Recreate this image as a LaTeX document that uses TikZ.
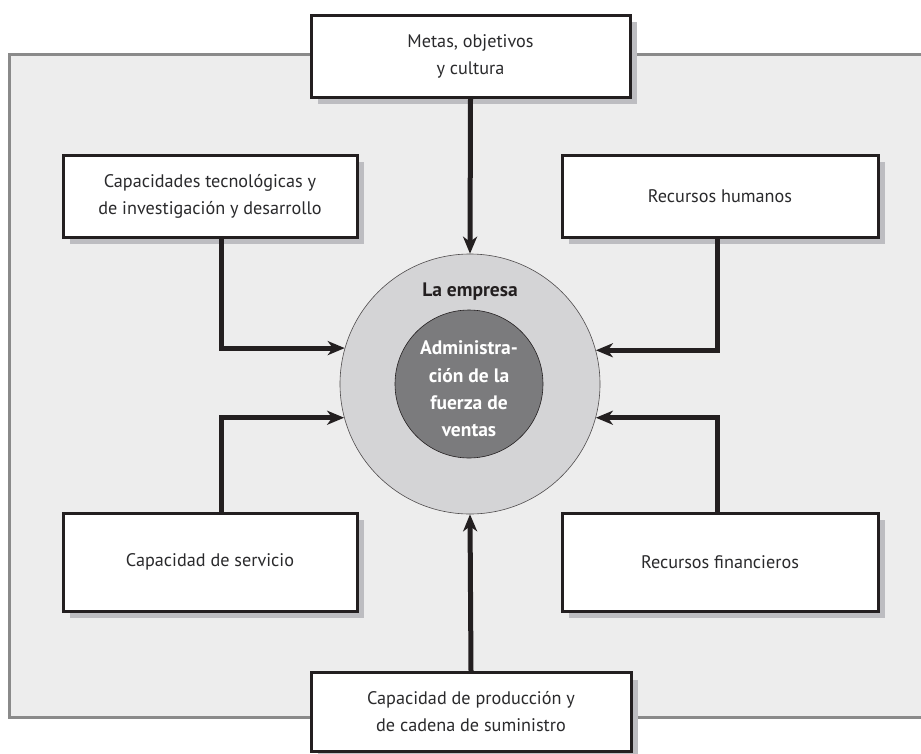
\documentclass[tikz,border=0pt]{standalone}
\usepackage{fontspec}
\setmainfont{PT Sans}
\usetikzlibrary{arrows.meta,shadows}
\definecolor{bgc}{HTML}{EDEDED}
\definecolor{framec}{HTML}{8A8A8A}
\definecolor{inkc}{HTML}{231F20}
\definecolor{shadowc}{HTML}{BDBDC1}
\definecolor{outerc}{HTML}{D4D4D6}
\definecolor{innerc}{HTML}{7B7B7D}
\definecolor{txtc}{HTML}{2A2A2C}
\tikzset{
  box/.style={draw=inkc, line width=3pt, fill=white, align=center, text=txtc,
    font=\fontsize{18.2}{27}\selectfont, inner sep=0pt,
    general shadow={fill=shadowc, draw=none, shadow xshift=7pt, shadow yshift=-7pt}},
  conn/.style={draw=inkc, line width=5pt, -{Stealth[length=17pt,width=14pt,inset=5pt]}},
}
\begin{document}
\begin{tikzpicture}[x=1pt,y=-1pt]
\useasboundingbox (0,0) rectangle (921,753);
\clip (0,0) rectangle (921,753);
% frame
\draw[fill=bgc, draw=framec, line width=3pt] (9,54) rectangle (940,717);
% circles
\node[circle, minimum size=260pt, fill=outerc, draw=inkc!80, line width=0.6pt, inner sep=0pt] (circ) at (470,384) {};
\node[circle, minimum size=148pt, fill=innerc, draw=inkc, line width=0.6pt, inner sep=0pt] (inner) at (469,384) {};
\node[text=inkc, font=\fontsize{19.5}{22}\selectfont\bfseries] (lab) at (470,292) {La empresa};
\node[text=white, align=center, font=\fontsize{19.5}{27.3}\selectfont\bfseries] (adm) at (469,389) {Administra-\\ción de la\\fuerza de\\ventas};
% boxes
\node[box, minimum width=319pt, minimum height=82pt] (top) at (470.5,56) {Metas, objetivos\\y cultura};
\node[box, minimum width=294pt, minimum height=82pt] (lt) at (210,196) {Capacidades tecnológicas y\\de investigación y desarrollo};
\node[box, minimum width=316pt, minimum height=82pt] (rt) at (720,196) {Recursos humanos};
\node[box, minimum width=294pt, minimum height=98pt] (lb) at (210,562) {Capacidad de servicio};
\node[box, minimum width=316pt, minimum height=98pt] (rb) at (720,562) {Recursos financieros};
\node[box, minimum width=320pt, minimum height=79pt] (bot) at (471,712) {Capacidad de producción y\\de cadena de suministro};
% connectors
\draw[conn] (top.south) -- (circ.north);
\draw[conn] (bot.north) -- (circ.south);
\draw[conn] ([xshift=11pt]lt.south) |- (circ.164.4);
\draw[conn] ([xshift=11pt]lb.north) |- (circ.195.6);
\draw[conn] ([xshift=-3pt]rt.south) |- (circ.15.6);
\draw[conn] ([xshift=-3pt]rb.north) |- (circ.-15.6);
\end{tikzpicture}
\end{document}
